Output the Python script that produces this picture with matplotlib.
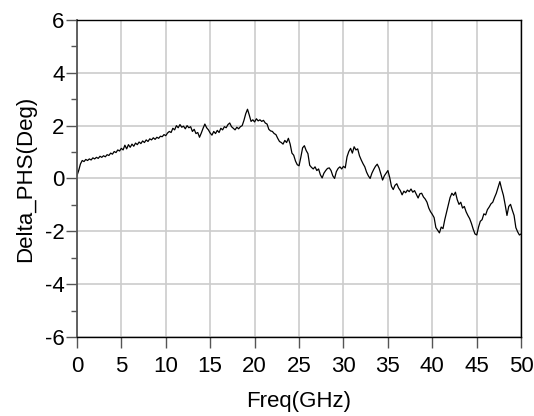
import matplotlib
matplotlib.use("Agg")
import matplotlib.pyplot as plt
from matplotlib.ticker import MultipleLocator

plt.rcParams['font.family'] = ['Liberation Sans', 'DejaVu Sans']
plt.rcParams['axes.unicode_minus'] = False

# values
freq = [0.0, 0.2, 0.4, 0.6, 0.8, 1.0, 1.2, 1.4, 1.6, 1.8, 2.0, 2.2, 2.4, 2.6, 2.8, 3.0, 3.2, 3.4, 3.6, 3.8,
        4.0, 4.2, 4.4, 4.6, 4.8, 5.0, 5.2, 5.4, 5.6, 5.8, 6.0, 6.2, 6.4, 6.6, 6.8, 7.0, 7.2, 7.4, 7.6, 7.8,
        8.0, 8.2, 8.4, 8.6, 8.8, 9.0, 9.2, 9.4, 9.6, 9.8, 10.0, 10.2, 10.4, 10.6, 10.8, 11.0, 11.2, 11.4, 11.6, 11.8,
        12.0, 12.2, 12.4, 12.6, 12.8, 13.0, 13.2, 13.4, 13.6, 13.8, 14.0, 14.2, 14.4, 14.6, 14.8, 15.0, 15.2, 15.4, 15.6, 15.8,
        16.0, 16.2, 16.4, 16.6, 16.8, 17.0, 17.2, 17.4, 17.6, 17.8, 18.0, 18.2, 18.4, 18.6, 18.8, 19.0, 19.2, 19.4, 19.6, 19.8,
        20.0, 20.2, 20.4, 20.6, 20.8, 21.0, 21.2, 21.4, 21.6, 21.8, 22.0, 22.2, 22.4, 22.6, 22.8, 23.0, 23.2, 23.4, 23.6, 23.8,
        24.0, 24.2, 24.4, 24.6, 24.8, 25.0, 25.2, 25.4, 25.6, 25.8, 26.0, 26.2, 26.4, 26.6, 26.8, 27.0, 27.2, 27.4, 27.6, 27.8,
        28.0, 28.2, 28.4, 28.6, 28.8, 29.0, 29.2, 29.4, 29.6, 29.8, 30.0, 30.2, 30.4, 30.6, 30.8, 31.0, 31.2, 31.4, 31.6, 31.8,
        32.0, 32.2, 32.4, 32.6, 32.8, 33.0, 33.2, 33.4, 33.6, 33.8, 34.0, 34.2, 34.4, 34.6, 34.8, 35.0, 35.2, 35.4, 35.6, 35.8,
        36.0, 36.2, 36.4, 36.6, 36.8, 37.0, 37.2, 37.4, 37.6, 37.8, 38.0, 38.2, 38.4, 38.6, 38.8, 39.0, 39.2, 39.4, 39.6, 39.8,
        40.0, 40.2, 40.4, 40.6, 40.8, 41.0, 41.2, 41.4, 41.6, 41.8, 42.0, 42.2, 42.4, 42.6, 42.8, 43.0, 43.2, 43.4, 43.6, 43.8,
        44.0, 44.2, 44.4, 44.6, 44.8, 45.0, 45.2, 45.4, 45.6, 45.8, 46.0, 46.2, 46.4, 46.6, 46.8, 47.0, 47.2, 47.4, 47.6, 47.8,
        48.0, 48.2, 48.4, 48.6, 48.8, 49.0, 49.2, 49.4, 49.6, 49.8, 50.0]

delta_phs = [0.10, 0.30, 0.55, 0.68, 0.64, 0.72, 0.68, 0.74, 0.70, 0.78, 0.74, 0.80, 0.76, 0.84, 0.80, 0.86, 0.82, 0.90, 0.87, 0.96,
             0.92, 1.02, 0.98, 1.08, 1.04, 1.14, 1.08, 1.26, 1.12, 1.28, 1.18, 1.30, 1.22, 1.34, 1.28, 1.38, 1.32, 1.42, 1.36, 1.46,
             1.40, 1.50, 1.46, 1.54, 1.48, 1.56, 1.52, 1.60, 1.58, 1.66, 1.62, 1.72, 1.78, 1.74, 1.90, 1.84, 2.00, 1.92, 2.04, 1.94,
             1.98, 1.88, 2.00, 1.92, 1.96, 1.78, 1.86, 1.70, 1.74, 1.56, 1.72, 1.90, 2.06, 1.92, 1.84, 1.72, 1.64, 1.78, 1.70, 1.82,
             1.74, 1.90, 1.84, 1.96, 1.92, 2.04, 2.10, 1.96, 1.90, 1.84, 1.94, 1.88, 1.96, 2.00, 2.20, 2.45, 2.62, 2.40, 2.16, 2.22,
             2.14, 2.26, 2.18, 2.22, 2.16, 2.20, 2.10, 2.06, 1.86, 1.80, 1.78, 1.70, 1.66, 1.52, 1.40, 1.36, 1.30, 1.44, 1.36, 1.52,
             1.30, 0.96, 0.88, 0.66, 0.52, 0.48, 0.80, 1.16, 1.24, 1.06, 0.94, 0.50, 0.42, 0.36, 0.44, 0.30, 0.36, 0.14, 0.02, 0.20,
             0.30, 0.38, 0.40, 0.30, 0.10, 0.00, 0.26, 0.38, 0.44, 0.36, 0.46, 0.40, 0.82, 1.02, 1.14, 0.96, 1.20, 1.08, 1.12, 0.86,
             0.70, 0.56, 0.44, 0.24, 0.10, 0.00, 0.20, 0.34, 0.46, 0.54, 0.40, 0.18, -0.06, 0.10, 0.20, 0.30, 0.04, -0.30, -0.42, -0.26,
             -0.20, -0.36, -0.46, -0.62, -0.48, -0.54, -0.44, -0.50, -0.40, -0.52, -0.46, -0.60, -0.74, -0.58, -0.56, -0.70, -0.78, -0.90, -1.12, -1.26,
             -1.36, -1.48, -1.86, -1.96, -2.06, -1.84, -1.90, -1.56, -1.28, -1.00, -0.72, -0.56, -0.64, -0.52, -0.80, -0.98, -0.90, -1.12, -1.06, -1.26,
             -1.40, -1.52, -1.70, -1.92, -2.10, -2.14, -1.84, -1.62, -1.56, -1.34, -1.38, -1.18, -1.08, -0.96, -0.90, -0.72, -0.56, -0.34, -0.12, -0.40,
             -0.64, -1.00, -1.40, -1.06, -0.98, -1.20, -1.40, -1.86, -2.02, -2.14, -2.10]

x_ticks = [0, 5, 10, 15, 20, 25, 30, 35, 40, 45, 50]
y_ticks = [-6, -4, -2, 0, 2, 4, 6]

fig = plt.figure(figsize=(5.34, 4.16), dpi=100)
ax = fig.add_axes([0.144, 0.19, 0.832, 0.762])

ax.plot(freq, delta_phs, color="black", linewidth=0.9)

ax.set_xlim(0, 50)
ax.set_ylim(-6, 6)
ax.set_xticks(x_ticks)
ax.set_yticks(y_ticks)
ax.yaxis.set_minor_locator(MultipleLocator(1))
ax.grid(True, which="major", color="#cccccc", linewidth=1.2)
ax.set_axisbelow(True)

ax.tick_params(axis="both", which="major", direction="out", length=8, width=1,
               color="#555555", labelsize=16, pad=1)
ax.tick_params(axis="x", which="major", pad=6)
ax.tick_params(axis="y", which="minor", direction="out", length=4, width=1, color="#555555")

for side in ["top", "bottom", "right"]:
    ax.spines[side].set_color("black")
    ax.spines[side].set_linewidth(1)
ax.spines["left"].set_color("#555555")
ax.spines["left"].set_linewidth(1.3)

ax.set_xlabel("Freq(GHz)", fontsize=16, labelpad=10)
ax.set_ylabel("Delta_PHS(Deg)", fontsize=16, labelpad=6)

fig.savefig("out.png", dpi=100)
